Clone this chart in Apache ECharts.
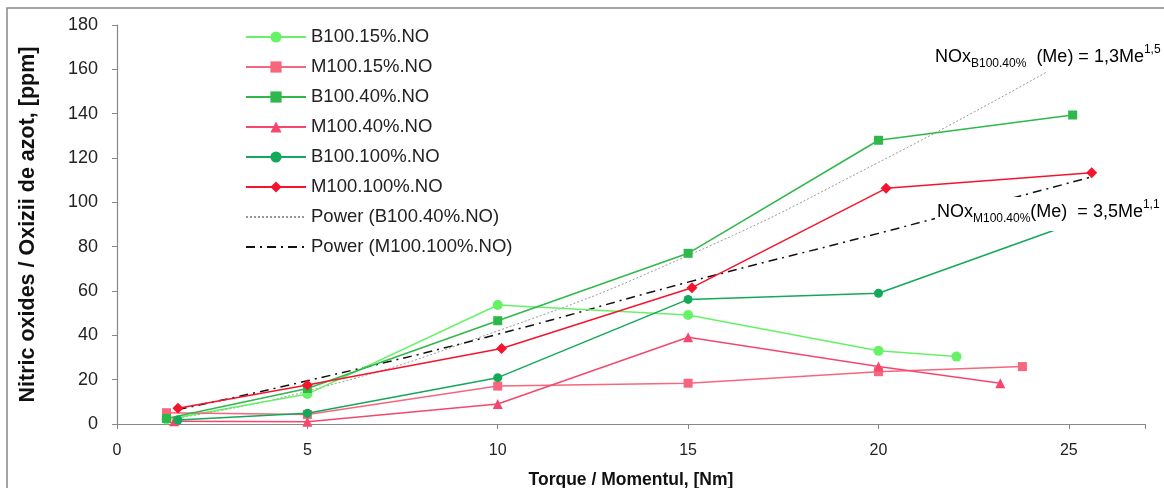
<!DOCTYPE html>
<html><head><meta charset="utf-8">
<script src="https://cdn.jsdelivr.net/npm/echarts@6/dist/echarts.min.js"></script>
<style>html,body{margin:0;padding:0;background:#fff}#c{width:1164px;height:488px}</style>
</head><body><div id="c"></div>
<script>
// ---- data ----
const legendNames = ['B100.15%.NO','M100.15%.NO','B100.40%.NO','M100.40%.NO','B100.100%.NO','M100.100%.NO','Power (B100.40%.NO)','Power (M100.100%.NO)'];
const b15X  = [1.3, 5, 10, 15, 20, 22.05];
const b15Y  = [2.0, 13.5, 53.7, 49.2, 33.0, 30.4];
const m15X  = [1.3, 5, 10, 15, 20, 23.78];
const m15Y  = [5.1, 4.3, 17.1, 18.4, 23.6, 25.9];
const b40X  = [1.3, 5, 10, 15, 20, 25.1];
const b40Y  = [2.5, 16.0, 46.6, 77.0, 128.0, 139.4];
const m40X  = [1.5, 5, 10, 15, 20, 23.2];
const m40Y  = [1.2, 1.0, 9.0, 39.1, 25.9, 18.4];
const b100X = [1.6, 5, 10, 15, 20, 25.0];
const b100Y = [1.8, 4.8, 20.9, 56.2, 59.0, 89.8];
const m100X = [1.6, 5, 10.1, 15.1, 20.2, 25.6];
const m100Y = [7.1, 17.6, 34.1, 61.5, 106.3, 113.4];
const trB40X  = [1.3, 5, 10, 15, 20, 24.44];
const trB40Y  = [2.0, 14.8, 42.0, 76.0, 118.0, 159.0];
const trM100X = [1.6, 5, 10, 15, 20, 25.6];
const trM100Y = [6.5, 19.5, 40.5, 64.0, 86.0, 111.5];
const eq1 = ['NOx', 'B100.40%', '(Me) = 1,3Me', '1,5'];
const eq2 = ['NOx', 'M100.40%', '(Me)  = 3,5Me', '1,1'];
const xTitle = 'Torque / Momentul, [Nm]';
const yTitle = 'Nitric oxides / Oxizii de azot, [ppm]';

const pair = (xs, ys) => xs.map((x, i) => [x, ys[i]]);
const F = "'Liberation Sans', Arial, sans-serif";

function lineSeries(name, xs, ys, color, symbol, size) {
  return {
    name, type: 'line', data: pair(xs, ys),
    symbol, symbolSize: size,
    lineStyle: { color, width: 1.5 },
    itemStyle: { color },
    emphasis: { disabled: true }, animation: false
  };
}

const chart = echarts.init(document.getElementById('c'), null, { renderer: 'canvas' });
const richEq = {
  m: { fontSize: 18, fontFamily: F, color: '#222', lineHeight: 26, verticalAlign: 'middle' },
  s: { fontSize: 12, fontFamily: F, color: '#222', lineHeight: 14, verticalAlign: 'bottom' },
  p: { fontSize: 12, fontFamily: F, color: '#222', lineHeight: 18, verticalAlign: 'top' }
};
const hidden = { color: 'rgba(0,0,0,0)', borderColor: 'rgba(0,0,0,0)', borderWidth: 0 };
chart.setOption({
  backgroundColor: '#fff',
  animation: false,
  grid: { left: 117, right: 19, top: 25, bottom: 64, containLabel: false, outerBoundsMode: 'none' },
  xAxis: {
    type: 'value', min: 0, max: 27, interval: 5,
    name: xTitle, nameLocation: 'middle', nameGap: 47,
    nameTextStyle: { fontFamily: F, fontSize: 17.5, fontWeight: 'bold', color: '#111' },
    axisLine: { lineStyle: { color: '#888', width: 1.2 } },
    axisTick: { show: true, length: 5, lineStyle: { color: '#888' } },
    axisLabel: { fontFamily: F, fontSize: 16, color: '#222', margin: 19,
      formatter: v => (v % 5 === 0 && v <= 25) ? String(v) : '' },
    splitLine: { show: false }
  },
  yAxis: {
    type: 'value', min: 0, max: 180, interval: 20,
    name: yTitle, nameLocation: 'middle', nameGap: 78, nameRotate: 90,
    nameTextStyle: { fontFamily: F, fontSize: 21.5, fontWeight: 'bold', color: '#111' },
    axisLine: { show: true, lineStyle: { color: '#888', width: 1.2 } },
    axisTick: { show: true, length: 5, lineStyle: { color: '#888' } },
    axisLabel: { fontFamily: F, fontSize: 18, color: '#222', margin: 19 },
    splitLine: { show: false }
  },
  legend: {
    orient: 'vertical', left: 240, top: 22,
    itemWidth: 60, itemHeight: 14, itemGap: 10,
    data: legendNames.map((n, i) => i >= 6 ? { name: n, itemStyle: hidden } : { name: n }),
    textStyle: { fontFamily: F, fontSize: 18.5, color: '#222', lineHeight: 20 },
    selectedMode: false
  },
  series: [
    lineSeries(legendNames[0], b15X, b15Y, '#66f266', 'circle', 10),
    lineSeries(legendNames[1], m15X, m15Y, '#f7667d', 'rect', 9),
    lineSeries(legendNames[2], b40X, b40Y, '#2fb84a', 'rect', 9),
    lineSeries(legendNames[3], m40X, m40Y, '#f5476e', 'triangle', 10),
    lineSeries(legendNames[4], b100X, b100Y, '#14a85a', 'circle', 9),
    lineSeries(legendNames[5], m100X, m100Y, '#f5142d', 'diamond', 11),
    {
      name: legendNames[6], type: 'line', data: pair(trB40X, trB40Y), smooth: true,
      showSymbol: false, symbol: 'none',
      lineStyle: { color: '#999', width: 1, type: [2, 2] }, itemStyle: { color: '#999' },
      emphasis: { disabled: true }, animation: false, z: 1
    },
    {
      name: legendNames[7], type: 'line', data: pair(trM100X, trM100Y), smooth: true,
      showSymbol: false, symbol: 'none',
      lineStyle: { color: '#111', width: 1.5, type: [9, 5, 2, 5] }, itemStyle: { color: '#111' },
      emphasis: { disabled: true }, animation: false, z: 1
    }
  ],
  graphic: [
    { type: 'rect', z: -10, silent: true,
      shape: { x: 7, y: 8, width: 1200, height: 520 }, style: { fill: 'none', stroke: '#888', lineWidth: 1.5 } },
    { type: 'text', left: 935, top: 44, z: 100, silent: true,
      style: { text: '{m|' + eq1[0] + '}{s|' + eq1[1] + '}{m|  ' + eq1[2] + '}{p|' + eq1[3] + '}', rich: richEq } },
    { type: 'text', left: 935, top: 197, z: 100, silent: true,
      style: { text: '{m|' + eq2[0] + '}{s|' + eq2[1] + '}{m|' + eq2[2] + '}{p|' + eq2[3] + '}', rich: richEq,
        backgroundColor: '#fff', padding: [2, 4, 6, 2] } }
  ]
});
</script></body></html>
